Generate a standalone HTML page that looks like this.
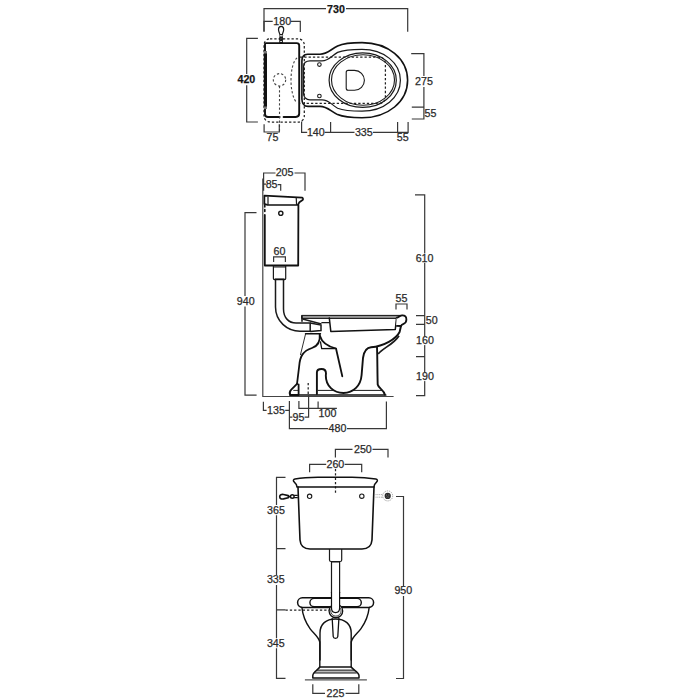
<!DOCTYPE html>
<html><head><meta charset="utf-8">
<style>
html,body{margin:0;padding:0;background:#fff;width:700px;height:700px;overflow:hidden}
svg{display:block}
.o{fill:none;stroke:#111;stroke-width:1.8;stroke-linejoin:round;stroke-linecap:round}
.t{fill:none;stroke:#1a1a1a;stroke-width:1.1}
.d{fill:none;stroke:#383838;stroke-width:1.2}
.ds{fill:none;stroke:#222;stroke-width:1.25;stroke-dasharray:2.3 2}
text{transform:translateY(-0.5px);stroke:#2a2a2a;stroke-width:0.25;font-family:"Liberation Sans",sans-serif;font-size:10.7px;fill:#2a2a2a;text-anchor:middle;dominant-baseline:central}
.b{font-weight:bold;fill:#111}
</style></head><body>
<svg width="700" height="700" viewBox="0 0 700 700">
<rect width="700" height="700" fill="#fff"/>

<!-- ============ TOP VIEW ============ -->
<g id="top">
<!-- 730 -->
<path class="d" d="M264,31 L264,8.6 L326,8.6 M346,8.6 L407.7,8.6 L407.7,31.7"/>
<text class="b" x="336" y="9.1">730</text>
<!-- 180 -->
<path class="d" d="M264,32 L264,21.4 L272.7,21.4 M290.8,21.4 L300.3,21.4 L300.3,32"/>
<text x="282.2" y="21.6">180</text>
<!-- 420 -->
<path class="d" d="M257.9,38.3 L246.7,38.3 L246.7,74 M246.7,85.2 L246.7,122 L257.9,122"/>
<text class="b" x="246.4" y="79.5">420</text>
<!-- handle -->
<path class="t" d="M281.1,26.4 C279.2,26.4 278.5,27.5 278.5,29.5 C278.5,31.5 279.6,33 279.9,34.6 L282.3,34.6 C282.6,33 283.7,31.5 283.7,29.5 C283.7,27.5 283,26.4 281.1,26.4 Z" style="stroke-width:1.2"/>
<path class="t" d="M279.5,35.5 L282.7,42 M282.7,35.5 L279.5,42" style="stroke-width:1"/>
<circle class="t" cx="281.1" cy="38.9" r="1.7" style="stroke-width:1.2"/>
<rect x="279.3" y="42" width="3.6" height="2" fill="#111"/>
<!-- dashed outer tank -->
<rect class="ds" x="264" y="38.9" width="40.3" height="83.1" rx="6"/>
<!-- tank -->
<path class="o" d="M279.6,117 L268,117 Q265,117 265,114 L265,44.3 Q265,43.1 266.2,43.1 L296.7,43.1 Q299.2,43.1 299.2,45.6 L299.2,113.6 Q299.2,117 295.8,117 L283.6,117" style="stroke-width:1.9"/>
<rect x="263.8" y="52" width="3.2" height="56" fill="#111"/><rect x="263.8" y="51" width="3.2" height="2.5" fill="#777"/><rect x="263.8" y="106.5" width="3.2" height="2.5" fill="#777"/>
<!-- dashed circle + line -->
<circle class="ds" cx="279.5" cy="79.8" r="6.2" style="stroke:#444;stroke-width:1.1"/>
<path class="ds" d="M279.5,86 L279.5,132" style="stroke:#444;stroke-width:1.1"/>
<path class="ds" d="M297,57.9 C289,65 289,95 297,102.9" style="stroke:#444;stroke-width:1.1"/>
<!-- bowl outer -->
<path class="o" style="stroke-width:1.6" d="M307.6,54.2 L320,54.2 C327,54.2 330,50 337.6,46 C345,42.6 355,42.6 362,42.6 C388,42.6 407.6,59 407.6,80.3 C407.6,101.5 388,117.8 362,117.8 C355,117.8 345,117.8 337.6,114.6 C330,110.6 327,106.4 320,106.4 L308,106.4 C304,106.4 301.9,103 301.9,99 L301.9,61 C301.9,56.5 304,54.2 307.6,54.2 Z"/>
<!-- bowl inner -->
<path class="t" style="stroke-width:1.2" d="M310,60.8 L322,60.8 C329,60.8 331,56 337.6,52.4 C345,49.4 355,49.4 362,49.4 C384,49.4 400.4,63 400.4,80.3 C400.4,97.5 384,111.2 362,111.2 C355,111.2 345,111.2 337.6,108.2 C331,104.6 329,99.8 322,99.8 L310,99.8 C306,99.8 303.6,97 303.6,94 L303.6,66 C303.6,63 306,60.8 310,60.8 Z"/>
<ellipse class="t" cx="362.7" cy="80.15" rx="33.6" ry="27.3" style="stroke-width:1.2"/>
<ellipse class="t" cx="363" cy="80" rx="31.5" ry="25.2" style="stroke-width:1.1"/>

<path class="ds" d="M300,57.2 L378,57.2 Q385.4,57.2 385.4,64 L385.4,96.5 Q385.4,103.4 378,103.4 L300,103.4"/>
<path class="t" d="M346.2,72.4 Q346.2,70.4 348.2,70.4 L354.5,70.4 C360,70.4 364.4,75 364.4,80.3 C364.4,85.7 360,90.2 354.5,90.2 L348.2,90.2 Q346.2,90.2 346.2,88.2 Z"/>
<circle class="t" cx="319.4" cy="64.6" r="1.8"/>
<circle class="t" cx="319.4" cy="96" r="1.8"/>
<!-- 275 / 55 -->
<path class="d" d="M411.2,53.6 L423.9,53.6 L423.9,76 M423.9,87 L423.9,119 L411.8,119 M411.8,107.2 L423.9,107.2"/>
<text x="424" y="81.8">275</text>
<text x="430.5" y="113.6">55</text>
<!-- bottom dims -->
<path class="d" d="M264.1,124.3 L264.1,132 L279.3,132 L279.3,124.3"/>
<text x="272.4" y="137.6">75</text>
<path class="d" d="M301.6,121.4 L301.6,132.3 L307.2,132.3 M324.6,132.3 L330.6,132.3 L330.6,122 M330.6,132.3 L354.5,132.3 M373,132.3 L397.6,132.3 L397.6,122 M397.6,132.3 L408.1,132.3 L408.1,122"/>
<text x="315.8" y="132.5">140</text>
<text x="363.8" y="132.5">335</text>
<text x="402.8" y="137.6">55</text>
</g>

<!-- ============ SIDE VIEW ============ -->
<g id="side">
<!-- wall & floor -->
<path class="t" d="M262.8,178.6 L262.8,396.5 L393.6,396.5" style="stroke:#444;stroke-width:1.2"/>
<!-- 205 / 85 -->
<path class="d" d="M263.6,190.7 L263.6,173 L275.5,173 M294.5,173 L305,173 L305,190.7"/>
<text x="284.6" y="172.8">205</text>
<path class="d" d="M277.6,184.6 L280.7,184.6 L280.7,190.7 M263.8,184.1 L266.2,184.1"/>
<text x="271.6" y="184.6">85</text>
<!-- lid -->
<path class="o" d="M264.4,195.6 L302.1,197.6 C303.3,198 303.3,199.5 302.6,200 L299.4,202.3 L297.8,205 L267.6,205 L264.4,203.9 Z" style="stroke-width:1.7"/>
<path class="t" d="M268,196.8 L268,205 M296.2,197.4 L296.6,205" style="stroke-width:1.2"/>
<!-- tank body -->
<path class="o" d="M264.8,215 L264.8,265.5 L298.2,265.5 L298.4,205" style="stroke-width:1.8"/>
<path class="o" d="M264.8,205 L264.8,207 M264.8,209.5 L264.8,211.5" style="stroke-width:1.6"/>
<circle class="t" cx="280.8" cy="213.3" r="2.1" style="stroke-width:1.4"/>
<!-- 60 -->
<path class="d" d="M273.6,262 L273.6,256.9 L285.4,256.9 L285.4,262"/>
<text x="279.5" y="251.2">60</text>
<!-- connector + pipe -->
<path class="t" d="M273.4,265.5 L273.4,278.5 Q273.4,279.6 274.5,279.6 L284.6,279.6 Q285.7,279.6 285.7,278.5 L285.7,265.5 M273.4,267 L285.7,267" style="stroke-width:1.2"/><path d="M274.6,279.2 L284.6,279.2" stroke="#111" stroke-width="1.6"/>
<path class="t" d="M275.5,279.3 L275.5,307 C275.5,321 287,331.2 300,331.2 L310.2,331.2 L310.2,323 L296,323 C289,323 283.5,318 283.5,309 L283.5,279.3" style="stroke-width:1.5"/>
<path class="t" d="M310.2,323 L321,325 L321,330.5 L310.2,331.5" style="stroke-width:1.5"/>
<!-- 940 -->
<path class="d" d="M256.5,212.6 L245,212.6 L245,296 M245,306.6 L245,395.1 L256.6,395.1"/>
<text x="245.7" y="301.4">940</text>
<!-- pan -->
<path d="M301.6,315.4 L403,315.4 L401,318.4 L301.6,318.4 Z" fill="#999" stroke="#111" stroke-width="1"/>
<path class="o" d="M329.3,318 L330.8,331.4 L395.3,329.5 L396.6,317.6" style="stroke-width:1.5"/>
<path d="M396.6,317.8 C399,317.4 400,315.4 402.4,315.4 C405,315.4 406.4,317.2 406.4,319.6 C406.4,322 405,323.4 403.6,323.9 C402.2,324.4 401.2,325 401,326 L396.2,325.8" fill="#fff" stroke="#111" stroke-width="1.8" stroke-linejoin="round"/>
<path class="t" d="M302,315.5 L302,321.7" style="stroke-width:1.6"/><path class="t" d="M302.6,319 L321.4,324 M321.4,322.6 L329.4,322.6" style="stroke-width:1.3"/>
<path class="o" d="M305.6,333.8 L320.4,333.8" style="stroke-width:1.6"/>
<path class="t" d="M305.6,333.8 L300.4,355" style="stroke-width:0.9"/>
<path class="o" d="M319.7,334 C320.5,342 318,346 312,348 C303,351 300,356 299.2,366 L297,384"/>
<path class="o" d="M297,383.8 L291.3,389.6 C289.6,391.3 289.4,393.5 290.2,395 L298.6,395 L298.6,384.5" style="stroke-width:1.8"/><path class="t" d="M293.3,390.4 L298.3,390.4" style="stroke-width:0.9"/>
<path class="o" d="M320,336 C322,343 328,346.5 336,348.5 L342.3,376.3"/>
<path class="o" d="M320.5,342 L321.7,348.6 L336,348.5" style="stroke-width:1.3"/>
<path class="o" style="stroke-width:1.9" d="M316.9,394 L316.9,372.5 Q316.9,369 321.5,369 Q326,369 326,373.5 L325.8,375.5 C325.8,386 333.5,393 343.5,393 C353.5,393 360.8,385.5 361.6,375 L363,358 C364,351 366,347.6 371,347.3 C384,346.3 396,339 399.6,332 L401,326"/>
<path class="o" style="stroke-width:1.9" d="M377,347.2 C377.5,360 377.3,372 377.7,384.5 C378.5,388.5 384,390 384.8,394.5"/>
<path class="t" style="stroke-width:1.7" d="M399,335.7 C394,344 383,348 378.2,354"/>
<path class="t" d="M317.5,390.4 L334.2,390.4 M352.8,390.4 L383,390.4" style="stroke-width:1"/>
<path class="o" d="M290,395 L385.7,395" style="stroke-width:1.7"/>
<path class="ds" d="M308.2,383 L308.2,395"/>
<!-- right dims -->
<path class="d" d="M415,194.9 L424.7,194.9 L424.7,395.6 L416,395.6 M416,315.6 L424.7,315.6 M416,324.4 L424.7,324.4 M416,356.6 L424.7,356.6"/>
<rect x="416" y="253.5" width="18" height="9.3" fill="#fff"/>
<text x="424.6" y="258.3">610</text>
<text x="431.8" y="320.2">50</text>
<rect x="416" y="336.3" width="18" height="8.8" fill="#fff"/>
<text x="425" y="340">160</text>
<rect x="416" y="372.3" width="18" height="8.8" fill="#fff"/>
<text x="425" y="376">190</text>
<path class="d" d="M396,309.6 L396,304 L407,304 L407,309.6"/>
<text x="401.5" y="298.2">55</text>
<!-- bottom dims -->
<path class="d" d="M263.4,401.7 L263.4,410.3 L266.6,410.3 M285.2,410.3 L289.4,410.3 M289.4,401 L289.4,428.6 L328,428.6 M347,428.6 L386.4,428.6 L386.4,401.4"/>
<text x="276" y="410.2">135</text>
<text x="337.5" y="428.6">480</text>
<path class="d" d="M289.4,417.1 L292.4,417.1 M304.6,417.1 L308.6,417.1 L308.6,395"/>
<text x="298.5" y="417.2">95</text>
<path class="d" d="M298.9,401 L298.9,408.3 L336.9,408.3 M318.1,401.4 L318.1,408.3"/>
<text x="327.5" y="413.2">100</text>
</g>

<!-- ============ FRONT VIEW ============ -->
<g id="front">
<path class="d" d="M335.4,457.4 L335.4,449.4 L352.5,449.4 M372.5,449.4 L388,449.4 L388,457.4"/>
<text x="362.9" y="449.4">250</text>
<path class="d" d="M309.6,472.3 L309.6,464.3 L326.2,464.3 M344.6,464.3 L361.7,464.3 L361.7,472.3"/>
<text x="335.4" y="464.3">260</text>
<path class="ds" d="M335.5,469 L335.5,494.5"/>
<!-- lid -->
<path class="o" d="M297,487 L296.3,484.4 L293.8,481.6 C293,480.6 293.4,479.3 295,479 C300,478.2 306,477.5 318,477.3 L352,477.3 C364,477.5 370,478.2 375.8,479 C377.4,479.3 377.8,480.6 377,481.6 L374.6,484.4 L374,487 Z" style="stroke-width:1.5"/>
<path class="o" d="M298,487 L300,540 C300.5,546 304,549 310,549 L362,549 C368,549 371.5,546 372,540 L374,487" style="stroke-width:1.6"/>
<circle class="t" cx="309.6" cy="496.3" r="2.2" style="stroke-width:1.1"/>
<circle class="t" cx="361.8" cy="496.2" r="2.2" style="stroke-width:1.1"/>
<!-- lever -->
<path d="M279.7,496.7 C279.7,494.7 281.5,494.2 283.5,494.5 L288.3,495.6 L288.3,497.8 L283.5,498.9 C281.5,499.2 279.7,498.7 279.7,496.7 Z" fill="#fff" stroke="#111" stroke-width="1.6" stroke-linejoin="round"/>
<circle cx="292.3" cy="496.5" r="1.8" fill="#fff" stroke="#111" stroke-width="1.4"/>
<path d="M288.3,496.6 L290.5,496.6" stroke="#111" stroke-width="1.8"/>
<path d="M294.1,495.4 L297.8,495.4 M294.1,497.6 L297.8,497.6" stroke="#111" stroke-width="1.1"/>
<!-- valve -->
<path d="M375.5,494.6 L383,494.6 M375.5,497.2 L383,497.2" stroke="#999" stroke-width="0.8" stroke-dasharray="1.1 0.7"/>
<circle cx="387.7" cy="495.9" r="5" fill="none" stroke="#999" stroke-width="0.9" stroke-dasharray="1.3 0.9"/>
<circle cx="387.7" cy="495.9" r="3.1" fill="#2a2a2a"/>
<circle cx="386.6" cy="495.1" r="0.5" fill="#999"/><circle cx="388.8" cy="495.1" r="0.5" fill="#999"/><path d="M386.3,497.3 Q387.7,496.4 389.1,497.3" stroke="#999" stroke-width="0.5" fill="none"/>
<!-- 950 -->
<path class="d" d="M396,496.5 L403.5,496.5 L403.5,586 M403.5,596 L403.5,678.5 L396,678.5"/>
<text x="403.3" y="590.8">950</text>
<!-- 365/335/345 -->
<path class="d" d="M285.5,477.3 L276.5,477.3 L276.5,505 M276.5,515.2 L276.5,575 M276.5,585 L276.5,638.2 M276.5,648.2 L276.5,678.3 L285.5,678.3 M276.5,548.7 L285.5,548.7 M276.5,609.8 L285.5,609.8"/>
<path class="ds" d="M285.5,610 L330,610"/>
<text x="276" y="510">365</text>
<text x="275.8" y="579.9">335</text>
<text x="275.8" y="643">345</text>
<!-- pipe -->
<path d="M331,561.2 L340.2,561.2 L339.8,563 L331.4,563 Z" fill="#888"/><path class="t" d="M329.5,549 L329.5,560 Q329.5,561.5 331,561.5 L340.2,561.5 Q341.7,561.5 341.7,560 L341.7,549" style="stroke-width:1.2"/>
<path class="t" d="M331.5,562 L331.5,593 M339.6,562 L339.6,593" style="stroke-width:1.2"/>
<!-- seat -->
<rect class="o" x="297.6" y="597.8" width="76" height="9.6" rx="4.8" style="stroke-width:1.5"/>
<rect class="o" x="309.9" y="598.4" width="51.4" height="8.4" rx="4.2" style="stroke-width:1.4"/>
<circle cx="335.9" cy="610.9" r="6.8" fill="#fff" stroke="#111" stroke-width="1.3"/>
<circle cx="335.9" cy="610.9" r="5.2" fill="none" stroke="#333" stroke-width="0.9"/>
<path d="M331.5,592 L331.5,608 C331.5,611 333.5,612.6 335.6,612.6 C337.7,612.6 339.6,611 339.6,608 L339.6,592" fill="#fff" stroke="#111" stroke-width="1.2"/>
<!-- bowl -->
<path class="o" d="M301.9,607.4 C302.8,616 306,623 310,628.6 C313.5,633.5 318.5,636.5 319.8,642 L319.8,667" style="stroke-width:1.4"/>
<path class="o" d="M369.2,607.4 C368.3,616 365,623 361,628.6 C357.5,633.5 352.5,636.5 351.2,642 L351.2,667" style="stroke-width:1.4"/>
<path class="o" d="M320,660 L320,633 C320,624 326,619 335.5,619 C345,619 351.2,624 351.2,633 L351.2,660" style="stroke-width:1.4"/>
<path class="o" d="M332.2,618.5 L333.2,636.5 Q333.4,638.3 335.5,638.3 Q337.6,638.3 337.8,636.5 L338.9,618.5" style="stroke-width:1.3"/>
<path d="M316.6,670.1 L354.4,670.1 L356.8,673 L314.2,673 Z" fill="#bbb"/><path class="o" d="M319.8,667 C318,670 313,672 312.8,675.5 L312.8,678.1 L359,678.1 L359,675.5 C358.5,672 353,670 351.2,667 Z" style="stroke-width:1.5"/>
<path class="t" d="M316.6,670.1 L354.4,670.1 M314.2,673 L356.8,673" style="stroke-width:1"/>
<path d="M304.9,679.8 L366.9,679.8" stroke="#555" stroke-width="1.2"/>
<!-- 225 -->
<path class="d" d="M312.8,684.2 L312.8,693.4 L325,693.4 M345.6,693.4 L358.8,693.4 L358.8,684.2"/>
<text x="335.5" y="693.6">225</text>
</g>
</svg>
</body></html>
